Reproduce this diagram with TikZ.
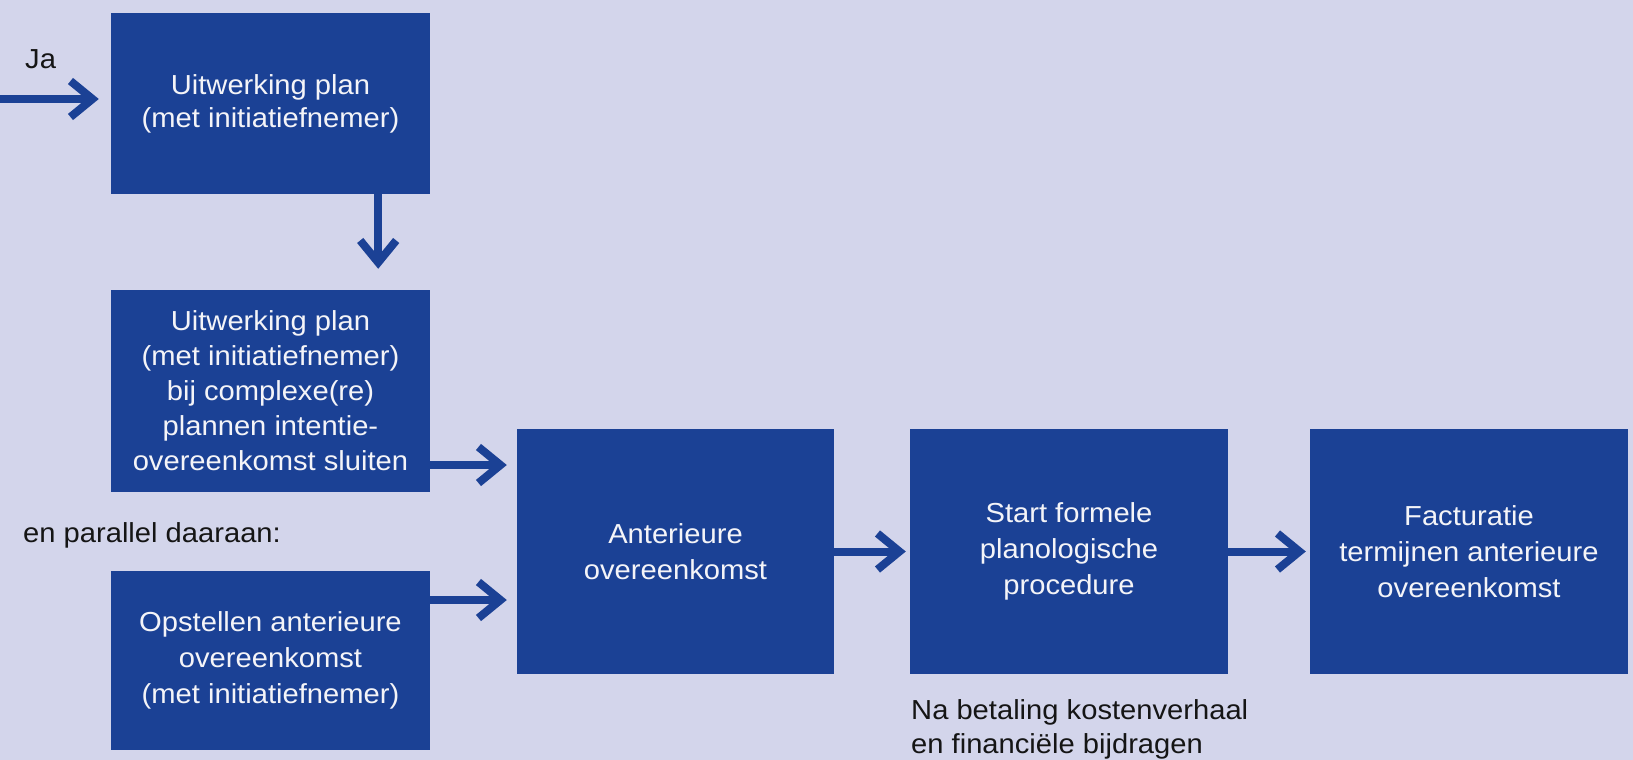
\documentclass[tikz,border=0pt]{standalone}
\usepackage{fontspec}
\setmainfont{Liberation Sans}[FakeStretch=1.06]
\usetikzlibrary{arrows.meta}
\definecolor{bg}{HTML}{D3D5EB}
\definecolor{boxblue}{HTML}{1B4195}
\definecolor{txtwhite}{HTML}{F4F4F8}
\definecolor{txtblack}{HTML}{151515}
\begin{document}
\begin{tikzpicture}[x=1pt,y=-1pt,
  box/.style={rectangle, fill=boxblue, text=txtwhite, align=center, inner sep=0pt, font=\fontsize{27.5}{36}\selectfont},
  arr/.style={draw=boxblue, line width=8pt, -{Straight Barb[length=22pt,width=36pt]}},
  lbl/.style={text=txtblack, inner sep=0pt, font=\fontsize{27.5}{34}\selectfont}]
\fill[bg] (0,0) rectangle (1633,760);
\useasboundingbox (0,0) rectangle (1633,760);

\node[box, minimum width=319pt, minimum height=181pt, font=\fontsize{27.5}{33}\selectfont] (b1) at (270.5,103.5) {Uitwerking plan\\(met initiatiefnemer)};
\node[box, minimum width=319pt, minimum height=202pt, font=\fontsize{27.5}{35}\selectfont] (b2) at (270.5,391) {Uitwerking plan\\(met initiatiefnemer)\\bij complexe(re)\\plannen intentie-\\overeenkomst sluiten};
\node[box, minimum width=319pt, minimum height=179pt] (b3) at (270.5,660.5) {Opstellen anterieure\\overeenkomst\\(met initiatiefnemer)};
\node[box, minimum width=317pt, minimum height=245pt] (ant) at (675.5,551.5) {Anterieure\\overeenkomst};
\node[box, minimum width=318pt, minimum height=245pt] (start) at (1069,551.5) {Start formele\\planologische\\procedure};
\node[box, minimum width=318pt, minimum height=245pt] (fact) at (1469,551.5) {Facturatie\\termijnen anterieure\\overeenkomst};

\node[lbl, anchor=base west] (ja) at (25,69) {Ja};
\node[lbl, anchor=base west] (par) at (23,542) {en parallel daaraan:};
\node[lbl, anchor=base west, align=left] (na) at (911,753) {Na betaling kostenverhaal\\en financiële bijdragen};

\coordinate (jaS) at (0,99);
\coordinate (a1) at (430,465);
\coordinate (a2) at (430,600);
\draw[arr, shorten >=12pt] (jaS) -- (jaS -| b1.west);
\draw[arr, shorten >=21pt] ([xshift=-52pt]b1.south east) -- ([xshift=-52pt]b2.north east);
\draw[arr, shorten >=10pt] (b2.east |- a1) -- (ant.west |- a1);
\draw[arr, shorten >=10pt] (b3.east |- a2) -- (ant.west |- a2);
\draw[arr, shorten >=4pt] (ant) -- (start);
\draw[arr, shorten >=4pt] (start) -- (fact);
\end{tikzpicture}
\end{document}
